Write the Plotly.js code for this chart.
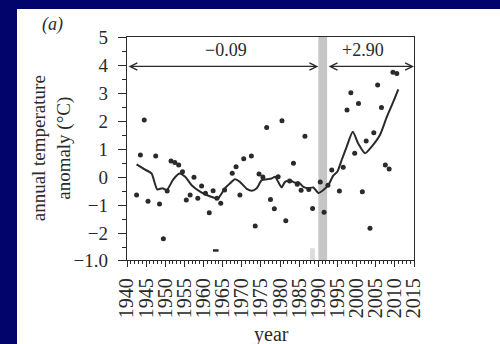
<!DOCTYPE html>
<html>
<head>
<meta charset="utf-8">
<script src="https://cdn.plot.ly/plotly-3.0.1.min.js"></script>
<style>
  html, body { margin: 0; padding: 0; width: 500px; height: 344px; background: #03036c; overflow: hidden; }
  #chart { position: absolute; left: 17px; top: 9px; width: 483px; height: 335px; background: #ffffff; }
</style>
</head>
<body>
<div id="chart"></div>
<script>
// Annual temperature anomaly (°C), dots = annual values (mid-year)
const dotYears = [1942.5, 1943.5, 1944.5, 1945.5, 1947.5, 1948.5, 1949.5, 1950.5, 1951.5, 1952.5,
  1953.5, 1954.5, 1955.5, 1956.5, 1957.5, 1958.5, 1959.5, 1960.5, 1961.5, 1962.5,
  1963.5, 1964.5, 1965.5, 1967.5, 1968.5, 1969.5, 1970.5, 1972.5, 1973.5, 1974.5,
  1975.5, 1976.5, 1977.5, 1978.5, 1979.5, 1980.5, 1981.5, 1982.5, 1983.5, 1984.5,
  1985.5, 1986.5, 1987.5, 1988.5, 1990.5, 1991.5, 1992.5, 1993.5, 1995.5, 1996.5,
  1997.5, 1998.5, 1999.5, 2000.5, 2001.5, 2002.5, 2003.5, 2004.5, 2005.5, 2006.5,
  2007.5, 2008.5, 2009.5, 2010.5];
const dotValues = [-0.64, 0.79, 2.04, -0.86, 0.75, -0.96, -2.2, -0.5, 0.57, 0.52,
  0.43, 0.19, -0.82, -0.64, -0.01, -0.76, -0.32, -0.58, -1.27, -0.49,
  -0.76, -0.93, -0.46, 0.14, 0.37, -0.64, 0.65, 0.75, -1.75, 0.11,
  0.0, 1.77, -0.8, -1.13, 0.01, 2.01, -1.56, -0.14, 0.49, -0.26,
  -0.47, 1.46, -0.44, -1.12, -0.18, -1.26, -0.29, 0.25, -0.5, 0.35,
  2.39, 3.01, 0.85, 2.63, -0.52, 1.29, -1.83, 1.58, 3.29, 2.48,
  0.43, 0.29, 3.74, 3.70];
// dot partly cut at the bottom of the scan
const cutYears = [1963.2];
const cutValues = [-2.62];

// smoothed curve
const smoothYears = [1942.5, 1944.5, 1946.4, 1947.9, 1949.3, 1950.4, 1952.1, 1953.7, 1955.2, 1956.9,
  1959.1, 1960.8, 1962.6, 1963.8, 1965.6, 1966.9, 1968.2, 1969.5, 1971.3, 1972.6,
  1973.9, 1975.2, 1976.5, 1977.8, 1978.7, 1979.5, 1980.4, 1981.3, 1982.6, 1983.9,
  1984.8, 1986.1, 1987.4, 1988.7, 1990.0, 1991.3, 1992.6, 1993.9, 1995.0, 1996.1,
  1997.4, 1999.0, 2000.4, 2002.2, 2003.9, 2006.1, 2007.9, 2009.6, 2010.9];
const smoothValues = [0.45, 0.28, 0.13, -0.44, -0.40, -0.46, -0.08, 0.13, 0.01, -0.29,
  -0.52, -0.64, -0.73, -0.76, -0.40, -0.23, -0.08, -0.17, -0.42, -0.49,
  -0.40, -0.11, -0.08, -0.05, 0.01, -0.17, -0.37, -0.17, -0.12, -0.20,
  -0.18, -0.35, -0.40, -0.37, -0.57, -0.46, -0.29, 0.05, 0.20, 0.61,
  1.08, 1.62, 1.20, 0.85, 1.08, 1.50, 2.15, 2.69, 3.13];

// gray band (eruption years) and the period arrows
const bandYears = [1990, 1992.3];
const cutBandYears = [1987.8, 1989.1];
const cutBandValues = [-2.54, -2.96];
const periodStarts = [1940, 1992.3];
const periodEnds = [1990, 2015];
const periodLabels = ['\u22120.09', '+2.90'];
const periodLabelYears = [1965.8, 2001.8];
const arrowLevel = 3.95;
const labelLevel = 4.54;

// axes
const xRange = [1940, 2015];
const yRange = [-2.96, 5];
const xTickVals = [1940, 1945, 1950, 1955, 1960, 1965, 1970, 1975, 1980, 1985, 1990, 1995, 2000, 2005, 2010, 2015];
const xTickText = ['1940', '1945', '1950', '1955', '1960', '1965', '1970', '1975', '1980', '1985', '1990', '1995', '2000', '2005', '2010', '2015'];
const yTickVals = [5, 4, 3, 2, 1, 0, -1, -2, -2.96];
const yTickText = ['5', '4', '3', '2', '1', '0', '\u22121', '\u22122', '\u22121.0'];

const serif = 'Liberation Serif, Times New Roman, serif';
const ink = '#2a2a2a';

const traces = [
  {
    x: smoothYears, y: smoothValues, type: 'scatter', mode: 'lines',
    line: { color: ink, width: 2, shape: 'spline', smoothing: 0.6 },
    hoverinfo: 'skip', showlegend: false
  },
  {
    x: dotYears, y: dotValues, type: 'scatter', mode: 'markers',
    marker: { color: ink, size: 5 },
    showlegend: false
  },
  {
    x: cutYears, y: cutValues, type: 'scatter', mode: 'markers',
    marker: { symbol: 'line-ew', size: 4, line: { color: ink, width: 2.5 } },
    showlegend: false, cliponaxis: true
  }
];

const shapes = [
  { type: 'rect', xref: 'x', yref: 'paper', x0: bandYears[0], x1: bandYears[1], y0: 0, y1: 1,
    fillcolor: '#c6c6c6', line: { width: 0 }, layer: 'below' },
  { type: 'rect', xref: 'x', yref: 'y', x0: cutBandYears[0], x1: cutBandYears[1], y0: cutBandValues[0], y1: cutBandValues[1],
    fillcolor: '#dcdcdc', line: { width: 0 }, layer: 'below' }
];

const annotations = [];
for (let i = 0; i < periodStarts.length; i++) {
  annotations.push({
    x: periodEnds[i], y: arrowLevel, ax: periodStarts[i], ay: arrowLevel,
    xref: 'x', yref: 'y', axref: 'x', ayref: 'y',
    text: '', showarrow: true, arrowside: 'end+start', arrowhead: 5, arrowsize: 1.3,
    arrowwidth: 1.1, arrowcolor: ink, standoff: 0, startstandoff: 0
  });
  annotations.push({
    x: periodLabelYears[i], y: labelLevel, xref: 'x', yref: 'y',
    text: periodLabels[i], showarrow: false,
    font: { family: serif, size: 18, color: ink }
  });
}
annotations.push({
  x: 0.502, y: -0.332, xref: 'paper', yref: 'paper', text: 'year', showarrow: false,
  xanchor: 'center', yanchor: 'middle', font: { family: serif, size: 20, color: ink }
});
annotations.push({
  x: -0.262, y: 0.5, xref: 'paper', yref: 'paper', text: 'annual temperature<br>anomaly (°C)',
  showarrow: false, textangle: -90, xanchor: 'center', yanchor: 'middle',
  font: { family: serif, size: 19, color: ink }
});
annotations.push({
  x: -0.258, y: 1.058, xref: 'paper', yref: 'paper', text: '<i>(a)</i>', showarrow: false,
  xanchor: 'center', yanchor: 'middle', font: { family: serif, size: 18, color: ink }
});

const layout = {
  width: 483, height: 335,
  margin: { l: 110, r: 86, t: 28, b: 84, pad: 0 },
  paper_bgcolor: '#ffffff', plot_bgcolor: '#ffffff',
  showlegend: false,
  xaxis: {
    range: xRange, tickmode: 'array', tickvals: xTickVals, ticktext: xTickText,
    tickangle: -90, ticks: 'outside', ticklen: 6, tickwidth: 1, tickcolor: ink,
    minor: { dtick: 1, tick0: 1940, ticks: 'outside', ticklen: 3, tickcolor: ink, showgrid: false },
    showline: true, linecolor: ink, linewidth: 1.2, mirror: true,
    showgrid: false, zeroline: false, ticklabelstandoff: 3,
    tickfont: { family: serif, size: 20, color: ink }
  },
  yaxis: {
    range: yRange, tickmode: 'array', tickvals: yTickVals, ticktext: yTickText,
    ticks: 'outside', ticklen: 8, tickwidth: 1, tickcolor: ink,
    minor: { tickvals: [4.5, 3.5, 2.5, 1.5, 0.5, -0.5, -1.5, -2.5], ticks: 'outside', ticklen: 4, tickcolor: ink, showgrid: false },
    showline: true, linecolor: ink, linewidth: 1.2, mirror: true,
    showgrid: false, zeroline: false, ticklabelstandoff: 6,
    tickfont: { family: serif, size: 19, color: ink }
  },
  shapes: shapes,
  annotations: annotations
};

Plotly.newPlot('chart', traces, layout, { staticPlot: true, displayModeBar: false });
</script>
</body>
</html>
